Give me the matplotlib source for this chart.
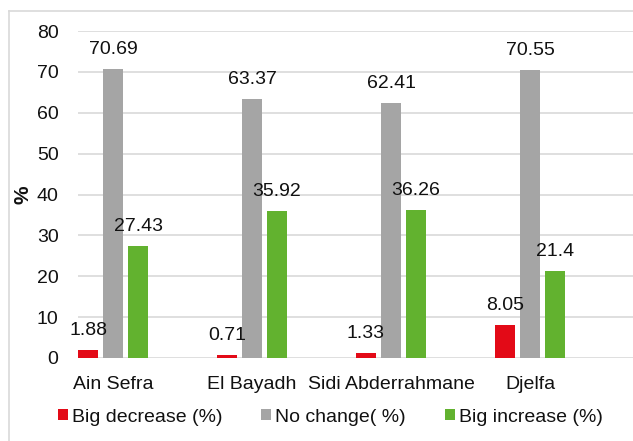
import numpy as np
import matplotlib.pyplot as plt
from matplotlib.lines import Line2D

plt.rcParams['font.family'] = ['Liberation Sans', 'DejaVu Sans']

sites = ['Ain Sefra', 'El Bayadh', 'Sidi Abderrahmane', 'Djelfa']
big_decrease = [1.88, 0.71, 1.33, 8.05]
no_change = [70.69, 63.37, 62.41, 70.55]
big_increase = [27.43, 35.92, 36.26, 21.4]
series_names = ['Big decrease (%)', 'No change( %)', 'Big increase (%)']
series_colors = ['#e30a17', '#a5a5a5', '#62b22f']

fig = plt.figure(figsize=(6.33, 4.41), dpi=100)

# thin grey frame: only the left and top edges fall inside the image
fx, fy = 9 / 633, (441 - 11) / 441
fig.add_artist(Line2D([fx, fx], [0, fy], transform=fig.transFigure,
                      color='#d9d9d9', linewidth=1.2))
fig.add_artist(Line2D([fx, 1], [fy, fy], transform=fig.transFigure,
                      color='#d9d9d9', linewidth=1.2))

ax = fig.add_axes([78 / 633, (441 - 358) / 441, (633 - 78) / 633, 327 / 441])

x = np.arange(len(sites))
width = 0.144
step = 0.18
for i, (vals, name, col) in enumerate(zip([big_decrease, no_change, big_increase],
                                          series_names, series_colors)):
    pos = x + (i - 1) * step
    ax.bar(pos, vals, width, color=col, label=name, zorder=3)
    for xp, v in zip(pos, vals):
        ax.annotate(f'{v:g}', (xp, v), xytext=(0, 15), textcoords='offset pixels',
                    ha='center', va='baseline', fontsize=14, color='#111111',
                    zorder=4)

ax.set_xlim(-0.252, 3.741)
ax.set_ylim(0, 80)
ax.set_yticks(np.arange(0, 81, 10))
ax.set_xticks(x)
ax.set_xticklabels(sites)
ax.tick_params(axis='both', length=0, labelsize=14, labelcolor='#111111')
ax.tick_params(axis='y', pad=14)
ax.tick_params(axis='x', pad=13)
ax.grid(axis='y', color='#d9d9d9', linewidth=1.2, zorder=0)
for s in ax.spines.values():
    s.set_visible(False)
ax.set_ylabel('%', fontsize=15, fontweight='bold', labelpad=3, color='#111111')

fig.legend(loc='center', bbox_to_anchor=(330 / 633, (441 - 417) / 441), ncol=3,
           frameon=False, fontsize=14, handlelength=0.52, handleheight=0.52,
           handletextpad=0.2, columnspacing=2.0, borderpad=0, labelcolor='#111111')

fig.savefig('out.png', dpi=100)
